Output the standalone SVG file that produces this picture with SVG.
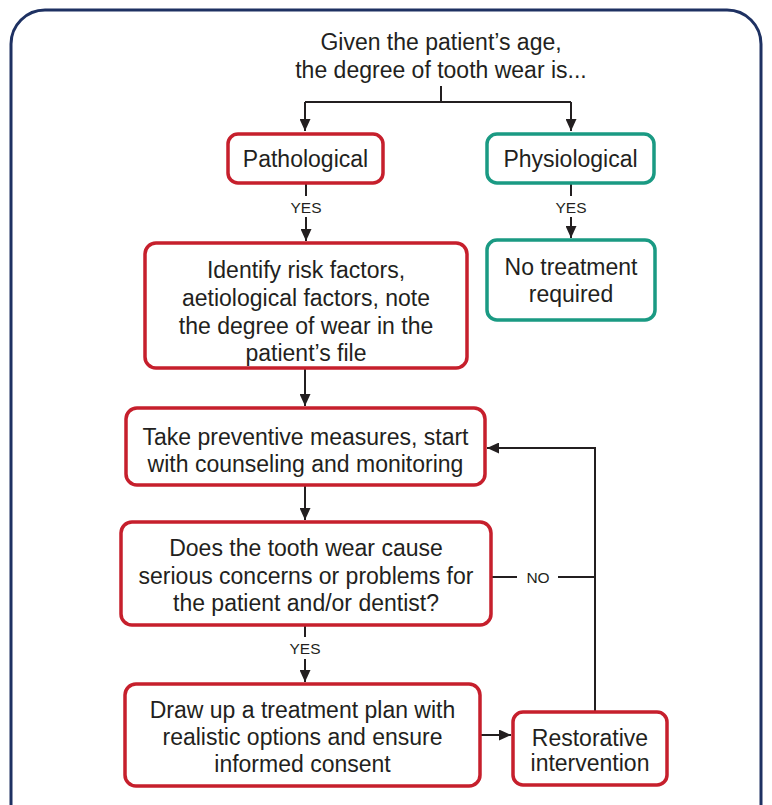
<svg xmlns="http://www.w3.org/2000/svg" width="772" height="805" viewBox="0 0 772 805">
<defs>
<style>
.red{fill:#fff;stroke:#c61f2c;stroke-width:3.5}
.teal{fill:#fff;stroke:#1a9a83;stroke-width:3.5}
.t{font-family:"Liberation Sans",Arial,sans-serif;font-size:23px;fill:#231f20;text-anchor:middle}
.lbl{font-family:"Liberation Sans",Arial,sans-serif;font-size:15.5px;fill:#231f20;text-anchor:middle}
.c{fill:none;stroke:#231f20;stroke-width:2}
</style>
<marker id="ah" markerUnits="userSpaceOnUse" markerWidth="12" markerHeight="11" refX="12" refY="5.5" orient="auto">
<path d="M0,0 L12,5.5 L0,11 z" fill="#231f20"/>
</marker>
</defs>
<rect x="0" y="0" width="772" height="805" fill="#fff"/>
<rect id="frame" x="11" y="10" width="750" height="840" rx="34" fill="#fff" stroke="#1e3162" stroke-width="3"/>

<g id="title">
<text class="t" x="441" y="50">Given the patient’s age,</text>
<text class="t" x="441" y="78">the degree of tooth wear is...</text>
</g>

<g id="connectors">
<path class="c" d="M441,86 V102 M305,102 H571"/>
<path class="c" d="M305,102 V131" marker-end="url(#ah)"/>
<path class="c" d="M571,102 V131" marker-end="url(#ah)"/>
<path class="c" d="M306,183 V196"/>
<text class="lbl" x="306" y="213">YES</text>
<path class="c" d="M306,217 V241" marker-end="url(#ah)"/>
<path class="c" d="M571,183 V196"/>
<text class="lbl" x="571" y="213">YES</text>
<path class="c" d="M571,217 V238" marker-end="url(#ah)"/>
<path class="c" d="M305,368 V406" marker-end="url(#ah)"/>
<path class="c" d="M305,486 V520" marker-end="url(#ah)"/>
<path class="c" d="M305,626 V637"/>
<text class="lbl" x="305" y="654">YES</text>
<path class="c" d="M305,659 V682" marker-end="url(#ah)"/>
<path class="c" d="M481,735 H511" marker-end="url(#ah)"/>
<path class="c" d="M595,711 V448 H487" marker-end="url(#ah)"/>
<path class="c" d="M492,577 H517 M558,577 H595"/>
<text class="lbl" x="538" y="583">NO</text>
</g>

<g id="pathological">
<rect class="red" x="228" y="134" width="155" height="49" rx="10"/>
<text class="t" x="305.5" y="166.5">Pathological</text>
</g>
<g id="physiological">
<rect class="teal" x="487" y="134" width="167" height="49" rx="10"/>
<text class="t" x="570.5" y="166.5">Physiological</text>
</g>
<g id="identify">
<rect class="red" x="145" y="243" width="322" height="125" rx="11"/>
<text class="t" x="306" y="278">Identify risk factors,</text>
<text class="t" x="306" y="306">aetiological factors, note</text>
<text class="t" x="306" y="334">the degree of wear in the</text>
<text class="t" x="306" y="361">patient’s file</text>
</g>
<g id="notreatment">
<rect class="teal" x="487" y="240" width="168" height="80" rx="10"/>
<text class="t" x="571" y="275">No treatment</text>
<text class="t" x="571" y="302">required</text>
</g>
<g id="preventive">
<rect class="red" x="126" y="408" width="359" height="77" rx="11"/>
<text class="t" x="305.5" y="445">Take preventive measures, start</text>
<text class="t" x="305.5" y="472">with counseling and monitoring</text>
</g>
<g id="concerns">
<rect class="red" x="121" y="522" width="370" height="103" rx="11"/>
<text class="t" x="306" y="556">Does the tooth wear cause</text>
<text class="t" x="306" y="584">serious concerns or problems for</text>
<text class="t" x="306" y="611">the patient and/or dentist?</text>
</g>
<g id="plan">
<rect class="red" x="125" y="684" width="355" height="102" rx="11"/>
<text class="t" x="302.5" y="718">Draw up a treatment plan with</text>
<text class="t" x="302.5" y="745">realistic options and ensure</text>
<text class="t" x="302.5" y="772">informed consent</text>
</g>
<g id="restorative">
<rect class="red" x="513" y="712" width="154" height="73" rx="10"/>
<text class="t" x="590" y="746">Restorative</text>
<text class="t" x="590" y="771">intervention</text>
</g>
</svg>
